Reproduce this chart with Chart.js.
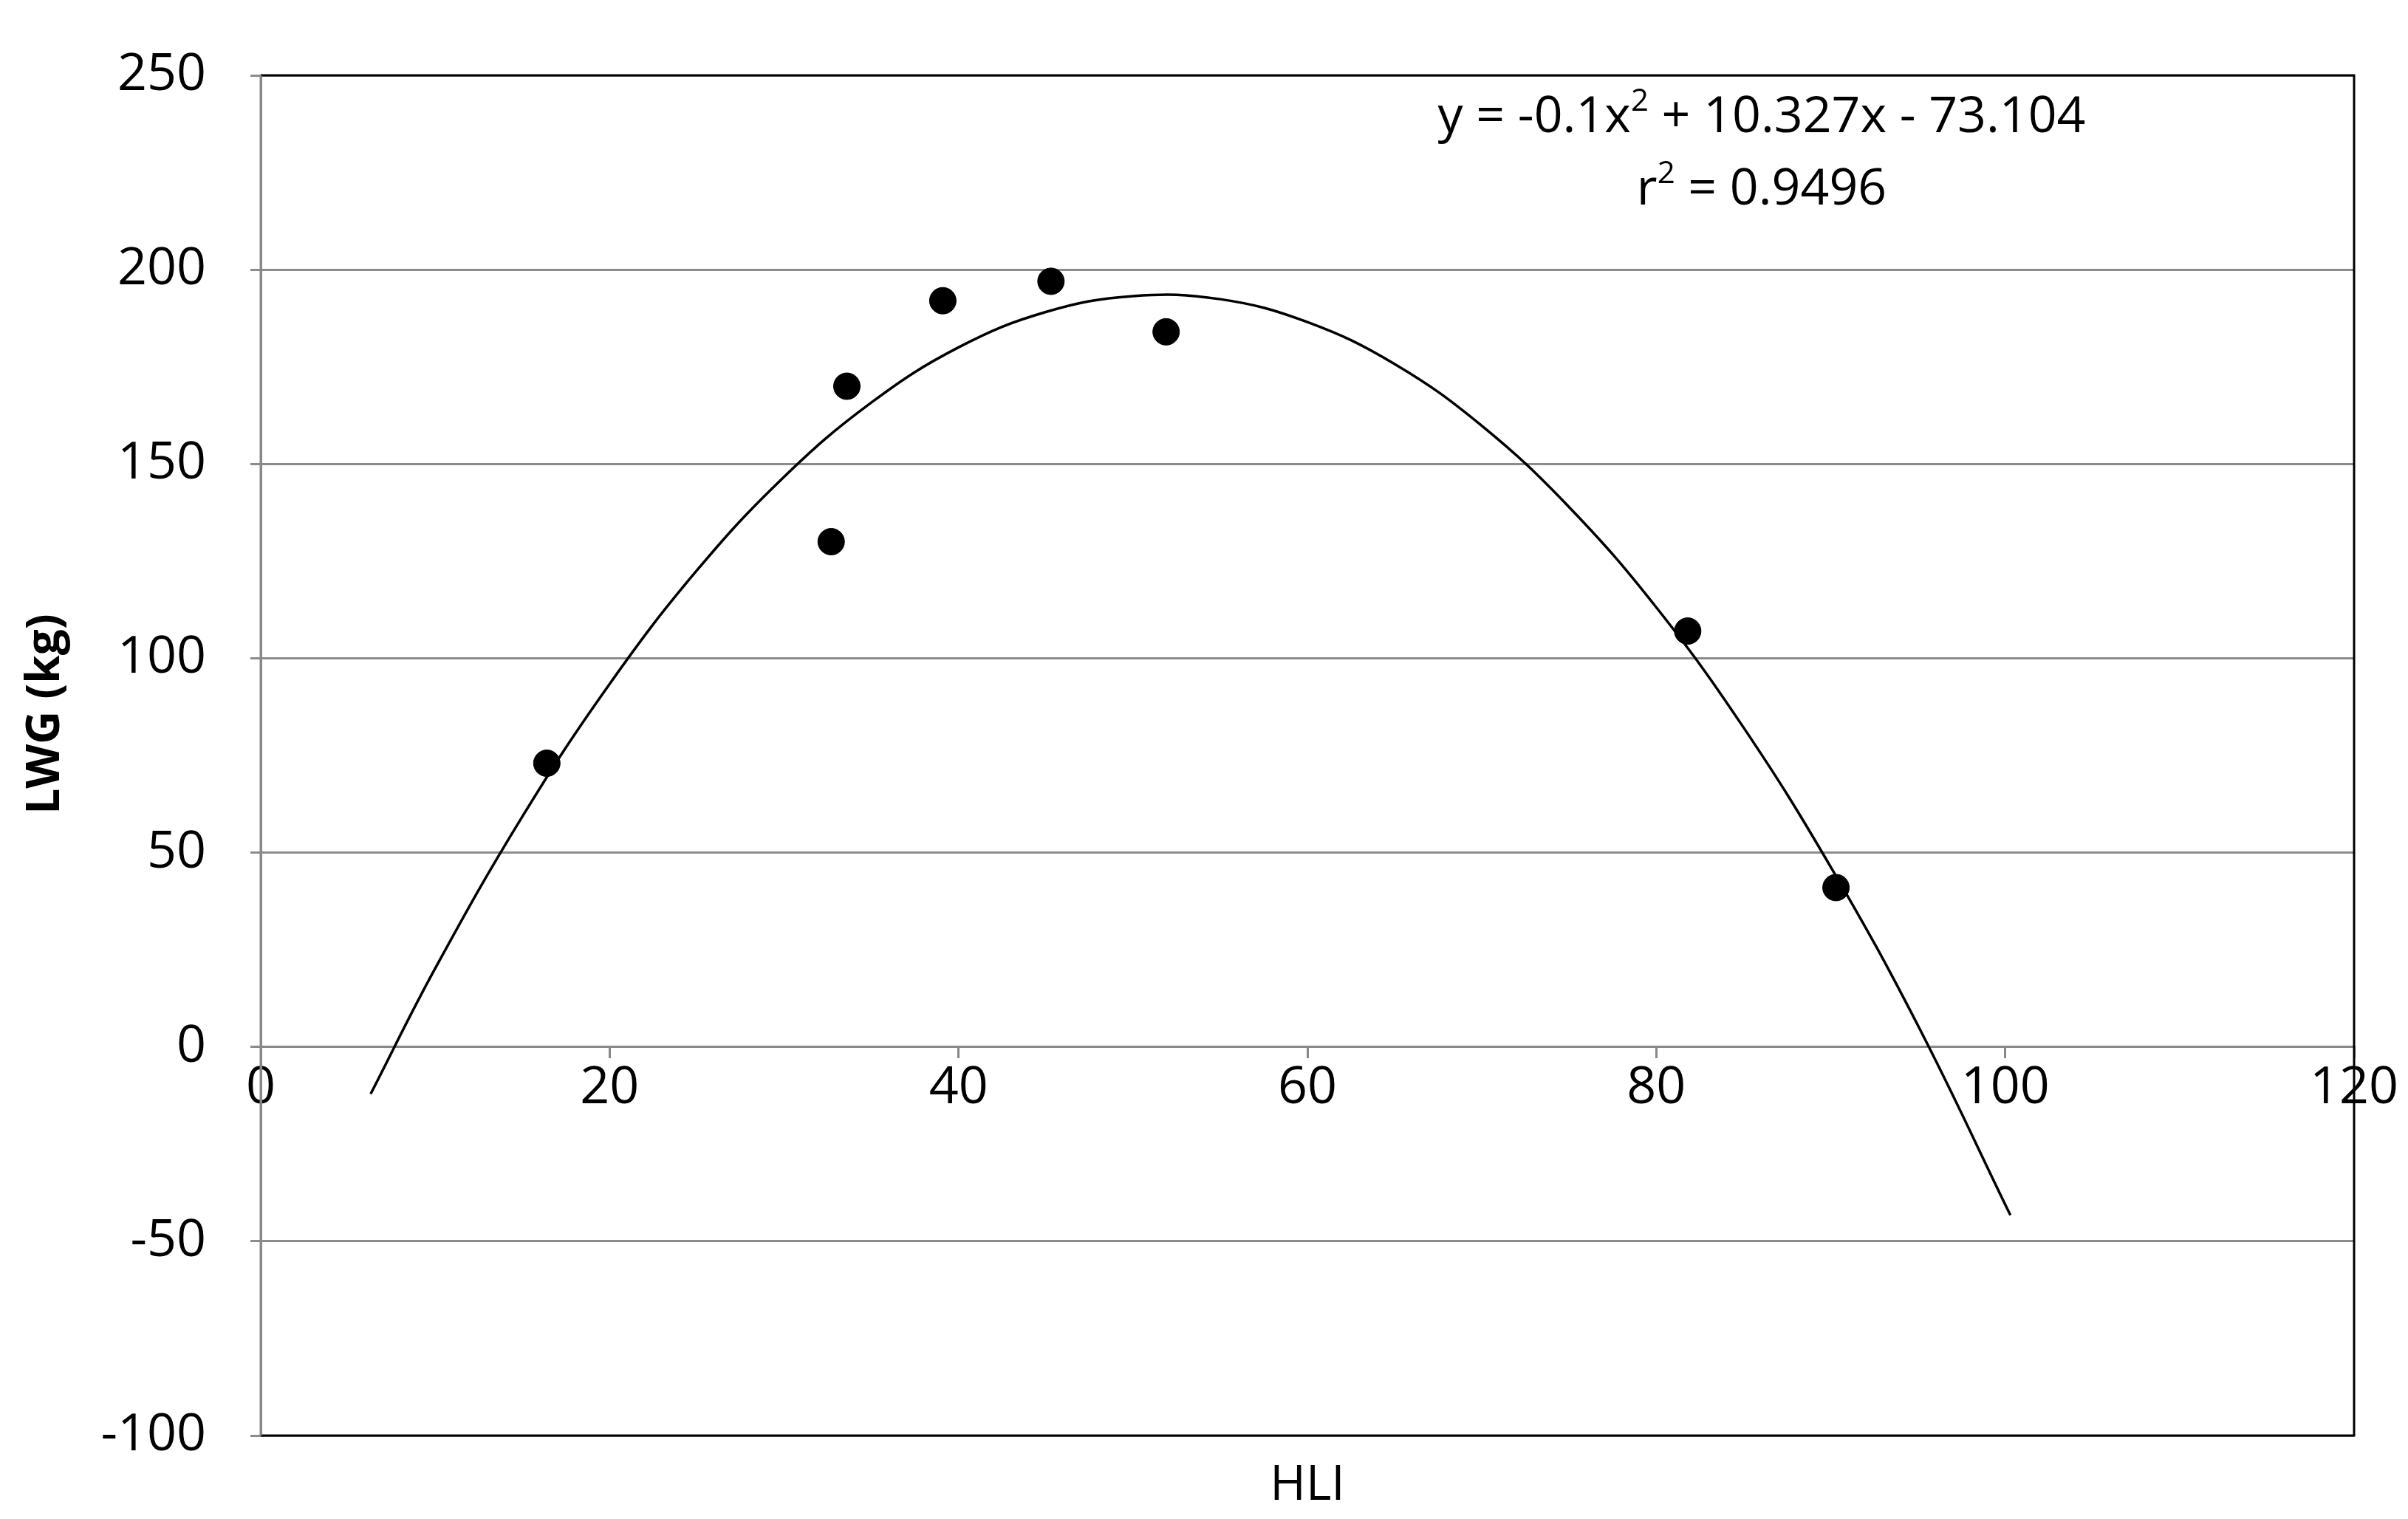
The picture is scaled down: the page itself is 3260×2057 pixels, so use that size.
<!DOCTYPE html>
<html>
<head>
<meta charset="utf-8">
<script src="https://cdn.jsdelivr.net/npm/chart.js@4"></script>
<style>
  html, body { margin: 0; padding: 0; background: #fff; }
  #wrap { width: 3260px; height: 2057px; }
</style>
</head>
<body>
<div id="wrap"><canvas id="c" width="3260" height="2057"></canvas></div>
<script>
// observed points (HLI vs LWG)
const hliValues = [16.4, 32.7, 33.6, 39.1, 45.3, 51.9, 81.8, 90.3];
const lwgValues = [73, 130, 170, 192, 197, 184, 107, 41];

// trendline
const trendX = [6.3, 10, 15, 20, 25, 30, 35, 40, 45, 50, 55, 60, 65, 70, 75, 80, 85, 90, 95, 100.3];
const trendY = [-12.1, 20.2, 59.3, 93.4, 122.6, 146.7, 165.8, 180.0, 189.1, 193.2, 192.4, 186.5, 175.7, 159.8, 138.9, 113.1, 82.2, 46.3, 5.5, -43.3];

const xTicks = [0, 20, 40, 60, 80, 100, 120];
const yTicks = [-100, -50, 0, 50, 100, 150, 200, 250];

const FONT = '"Open Sans", "Liberation Sans", sans-serif';

// ── frame, axis titles and equation text ──
const overlay = {
  id: 'overlay',
  afterDraw(chart) {
    const { ctx, chartArea: a } = chart;
    ctx.save();
    ctx.strokeStyle = '#000';
    ctx.lineWidth = 3;
    ctx.beginPath();
    ctx.moveTo(a.left, a.top); ctx.lineTo(a.right, a.top);
    ctx.lineTo(a.right, a.bottom); ctx.lineTo(a.left, a.bottom);
    ctx.stroke();
    ctx.strokeStyle = '#888';
    ctx.beginPath();
    ctx.moveTo(a.left, a.top); ctx.lineTo(a.left, a.bottom);
    ctx.stroke();

    ctx.fillStyle = '#000';
    ctx.textAlign = 'center';
    ctx.textBaseline = 'middle';
    ctx.font = '66px ' + FONT;
    ctx.fillText('HLI', (a.left + a.right) / 2, 2012);

    ctx.save();
    ctx.translate(62, 967);
    ctx.rotate(-Math.PI / 2);
    ctx.font = 'bold 62px ' + FONT;
    ctx.fillText('LWG (kg)', 0, 0);
    ctx.restore();

    ctx.font = '68px ' + FONT;
    ctx.textAlign = 'left';
    const line1a = 'y = -0.1x', line1b = ' + 10.327x - 73.104';
    const w1 = ctx.measureText(line1a).width;
    ctx.font = '42px ' + FONT;
    const wsup = ctx.measureText('2').width;
    ctx.font = '68px ' + FONT;
    const w2 = ctx.measureText(line1b).width;
    const cx = 2385, total = w1 + wsup + w2;
    let x0 = cx - total / 2;
    ctx.fillText(line1a, x0, 160);
    ctx.font = '42px ' + FONT;
    ctx.fillText('2', x0 + w1, 138);
    ctx.font = '68px ' + FONT;
    ctx.fillText(line1b, x0 + w1 + wsup, 160);

    const r1 = 'r', r2 = ' = 0.9496';
    const wr1 = ctx.measureText(r1).width;
    const wr2 = ctx.measureText(r2).width;
    x0 = cx - (wr1 + wsup + wr2) / 2;
    ctx.fillText(r1, x0, 258);
    ctx.font = '42px ' + FONT;
    ctx.fillText('2', x0 + wr1, 236);
    ctx.font = '68px ' + FONT;
    ctx.fillText(r2, x0 + wr1 + wsup, 258);
    ctx.restore();
  }
};

new Chart(document.getElementById('c'), {
  type: 'scatter',
  data: {
    datasets: [
      {
        type: 'line',
        data: trendX.map((x, i) => ({ x, y: trendY[i] })),
        borderColor: '#000',
        borderWidth: 3.5,
        pointRadius: 0,
        tension: 0.4,
        fill: false,
      },
      {
        data: hliValues.map((x, i) => ({ x, y: lwgValues[i] })),
        backgroundColor: '#000',
        borderColor: '#000',
        pointRadius: 18,
      },
    ]
  },
  options: {
    responsive: false,
    animation: false,
    layout: { padding: { top: 52, right: 73, bottom: 113, left: 0 } },
    plugins: { legend: { display: false }, tooltip: { enabled: false } },
    scales: {
      x: {
        type: 'linear',
        position: { y: 0 },
        min: 0, max: 120,
        afterBuildTicks: s => { s.ticks = xTicks.map(v => ({ value: v })); },
        grid: { drawOnChartArea: false, tickLength: 14, color: '#888', lineWidth: 3 },
        border: { color: '#888', width: 3 },
        ticks: { color: '#000', font: { size: 70, family: FONT }, padding: 0, maxRotation: 0 },
      },
      y: {
        min: -100, max: 250,
        afterBuildTicks: s => { s.ticks = yTicks.map(v => ({ value: v })); },
        afterFit: s => { s.width = 353; },
        grid: { color: '#8c8c8c', lineWidth: 3, tickLength: 14 },
        border: { color: '#888', width: 3 },
        ticks: { color: '#000', font: { size: 70, family: FONT }, padding: 60 },
      }
    }
  },
  plugins: [overlay]
});
</script>
</body>
</html>
